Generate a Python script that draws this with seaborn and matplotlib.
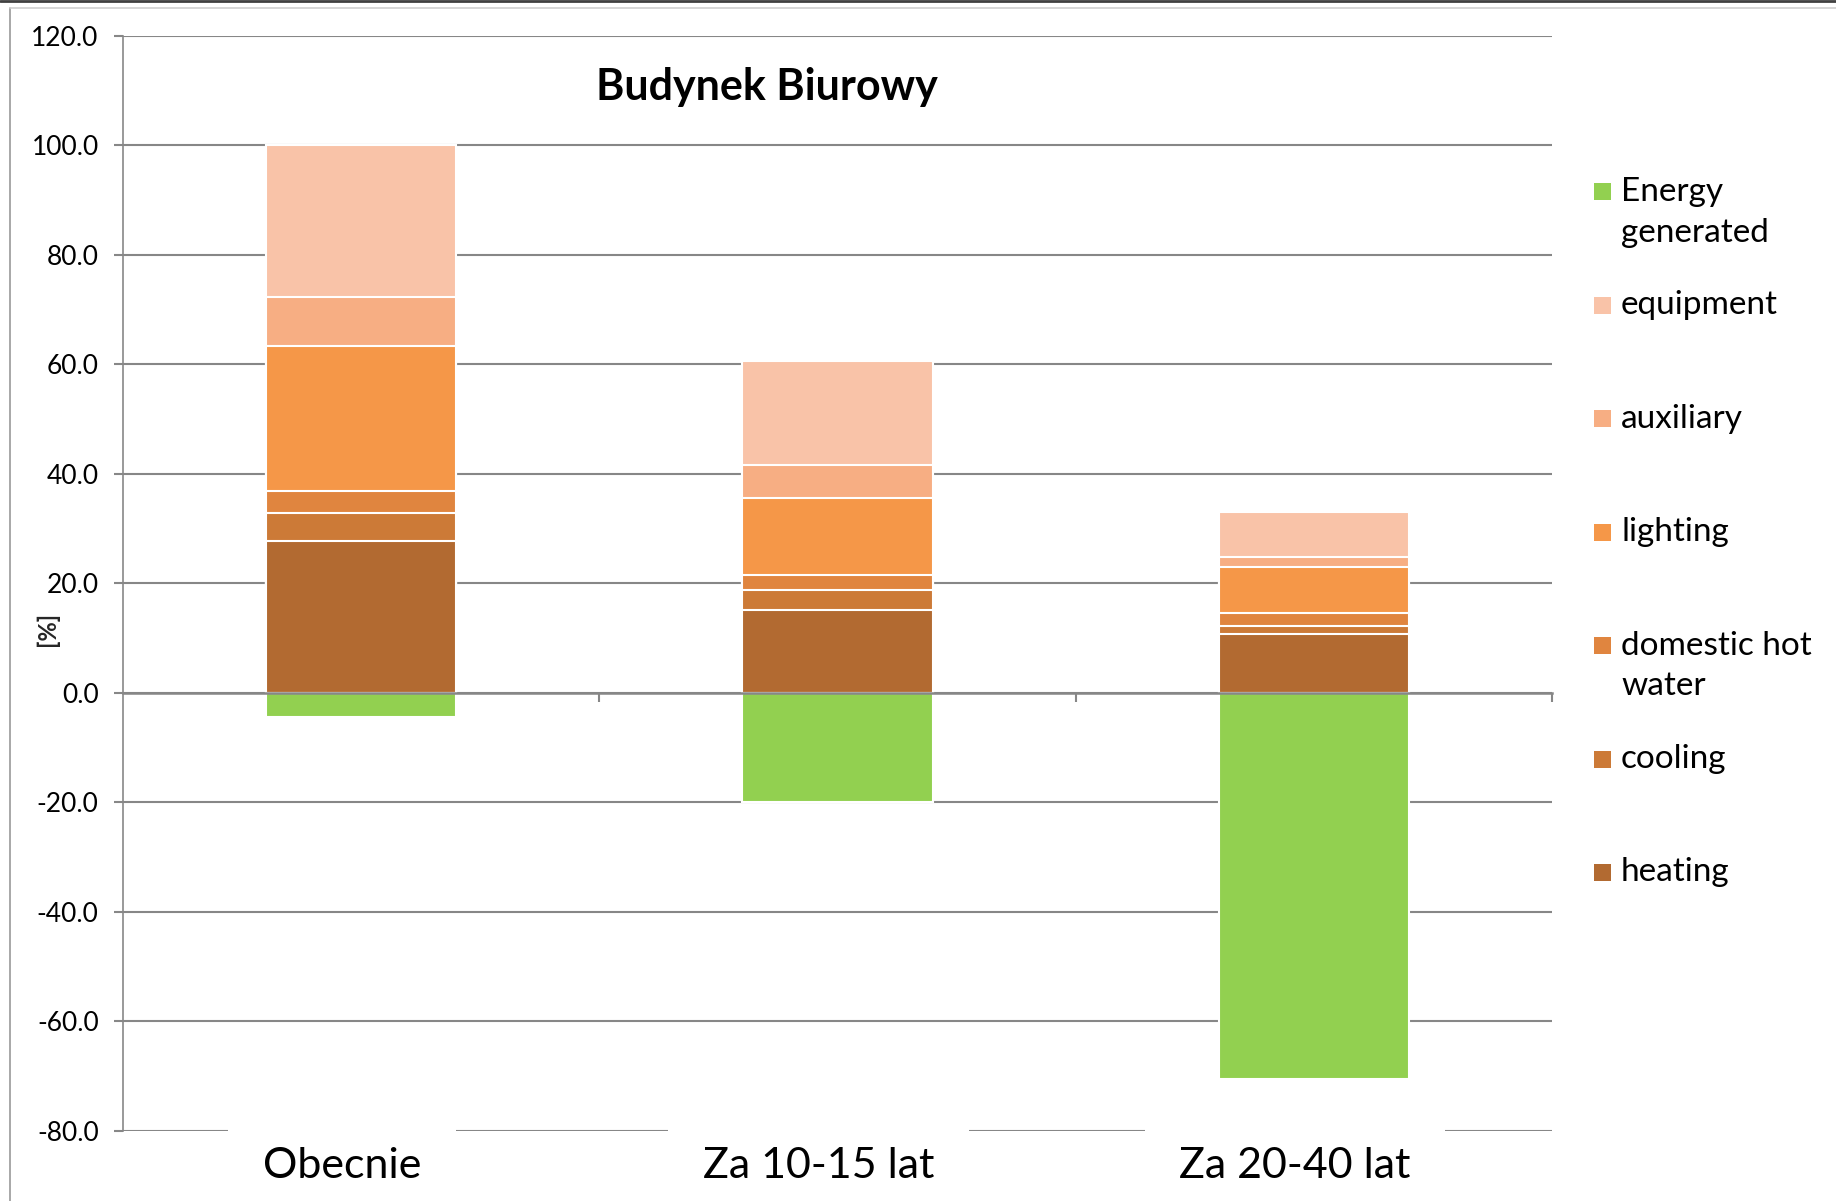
import matplotlib
matplotlib.use('Agg')
import matplotlib.pyplot as plt
import matplotlib.transforms as mtransforms
from matplotlib.patches import Rectangle
from matplotlib.lines import Line2D
import numpy as np
import seaborn as sns

# --- data ---
categories = ['Obecnie', 'Za 10-15 lat', 'Za 20-40 lat']

heating = [27.8, 15.1, 10.7]
cooling = [5.1, 3.7, 1.5]
domestic_hot_water = [4.0, 2.8, 2.3]
lighting = [26.4, 14.0, 8.4]
auxiliary = [8.9, 6.0, 2.0]
equipment = [27.8, 19.0, 8.2]
energy_generated = [-4.4, -20.0, -70.5]

y_ticks = [-80, -60, -40, -20, 0, 20, 40, 60, 80, 100, 120]

title = 'Budynek Biurowy'
y_label = '[%]'
legend_labels = ['Energy\ngenerated', 'equipment', 'auxiliary', 'lighting',
                 'domestic hot\nwater', 'cooling', 'heating']

# colours
c_green = '#92D050'
c_equip = '#F9C3A8'
c_aux = '#F7AE83'
c_light = '#F59748'
c_dhw = '#E0853F'
c_cool = '#CC7A37'
c_heat = '#B26A31'
grid_col = '#878787'

sns.set_theme(style='white')
plt.rcParams['font.family'] = ['Lato', 'DejaVu Sans']
plt.rcParams['axes.unicode_minus'] = False

W, H = 1836, 1201
fig = plt.figure(figsize=(W / 100, H / 100), dpi=100)
ax = fig.add_axes([123 / W, 1 - 1131 / H, (1552 - 123) / W, (1131 - 35.7) / H])

# stacked bars: draw cumulative totals from the top layer down
layers = [heating, cooling, domestic_hot_water, lighting, auxiliary, equipment]
layer_cols = [c_heat, c_cool, c_dhw, c_light, c_aux, c_equip]
cum = np.cumsum(np.array(layers), axis=0)
for i in range(len(layers) - 1, -1, -1):
    sns.barplot(x=categories, y=cum[i], color=layer_cols[i], saturation=1,
                width=0.4, edgecolor='white', linewidth=1.5, errorbar=None, ax=ax)
sns.barplot(x=categories, y=energy_generated, color=c_green, saturation=1,
            width=0.4, edgecolor='white', linewidth=1.5, errorbar=None, ax=ax)

ax.set_xlim(-0.5, 2.5)
ax.set_ylim(-80, 120)
ax.set_yticks(y_ticks)
ax.set_yticklabels([f'{v:.1f}' for v in y_ticks], fontsize=19, color='black')
ax.set_axisbelow(True)
ax.yaxis.grid(True, color=grid_col, linewidth=1.5)
ax.xaxis.grid(False)

for s in ['top', 'right']:
    ax.spines[s].set_visible(False)
ax.spines['left'].set_color(grid_col)
ax.spines['left'].set_linewidth(1.2)
ax.spines['bottom'].set_position(('data', 0))
ax.spines['bottom'].set_color(grid_col)
ax.spines['bottom'].set_linewidth(1.8)
ax.spines['bottom'].set_zorder(5)

ax.tick_params(axis='y', direction='out', length=6.5, width=1.5, color=grid_col, pad=11, left=True)
ax.set_xticks([0.5, 1.5, 2.5])
ax.set_xticklabels([])
ax.tick_params(axis='x', direction='out', length=6.5, width=1.5, color=grid_col, bottom=True)
ax.set_xlabel('')
ax.set_ylabel('')

# category labels below the plot (white box cuts the -80 gridline like the original)
trans = mtransforms.blended_transform_factory(ax.transData, ax.transAxes)
for i, lab in enumerate(categories):
    ax.text(i - 0.04, -0.032, lab, transform=trans, ha='center', va='center',
            fontsize=31, color='black', clip_on=False, zorder=6,
            bbox=dict(boxstyle='square,pad=0.8', facecolor='white', edgecolor='none'))

ax.text(0.4507, 0.953, title, transform=ax.transAxes, ha='center', va='center',
        fontsize=31, fontweight='bold', color='black')

fig.text(47 / W, 1 - 629 / H, y_label, rotation=90, ha='center', va='center',
         fontsize=17, fontweight='bold')

# legend, laid out by hand to match the spread-out entries
leg_cols = [c_green, c_equip, c_aux, c_light, c_dhw, c_cool, c_heat]
for i, (lab, col) in enumerate(zip(legend_labels, leg_cols)):
    my = 192 + i * 113.4
    fig.add_artist(Rectangle((1594 / W, 1 - (my + 8.5) / H), 17 / W, 17 / H,
                             transform=fig.transFigure, facecolor=col, edgecolor='none'))
    fig.text(1621 / W, 1 - (my - 15) / H, lab, ha='left', va='top',
             fontsize=24, linespacing=1.45, color='black')

# chart-area border
fig.add_artist(Line2D([10 / W, 10 / W], [0, 1 - 8 / H], transform=fig.transFigure,
                      color='#9a9a9a', linewidth=1.2))
fig.add_artist(Line2D([10 / W, 1], [1 - 8 / H, 1 - 8 / H], transform=fig.transFigure,
                      color='#cfcfcf', linewidth=1.2))
fig.add_artist(Line2D([0, 1], [1 - 1 / H, 1 - 1 / H], transform=fig.transFigure,
                      color='#404040', linewidth=2))

fig.savefig('out.png', dpi=100)
